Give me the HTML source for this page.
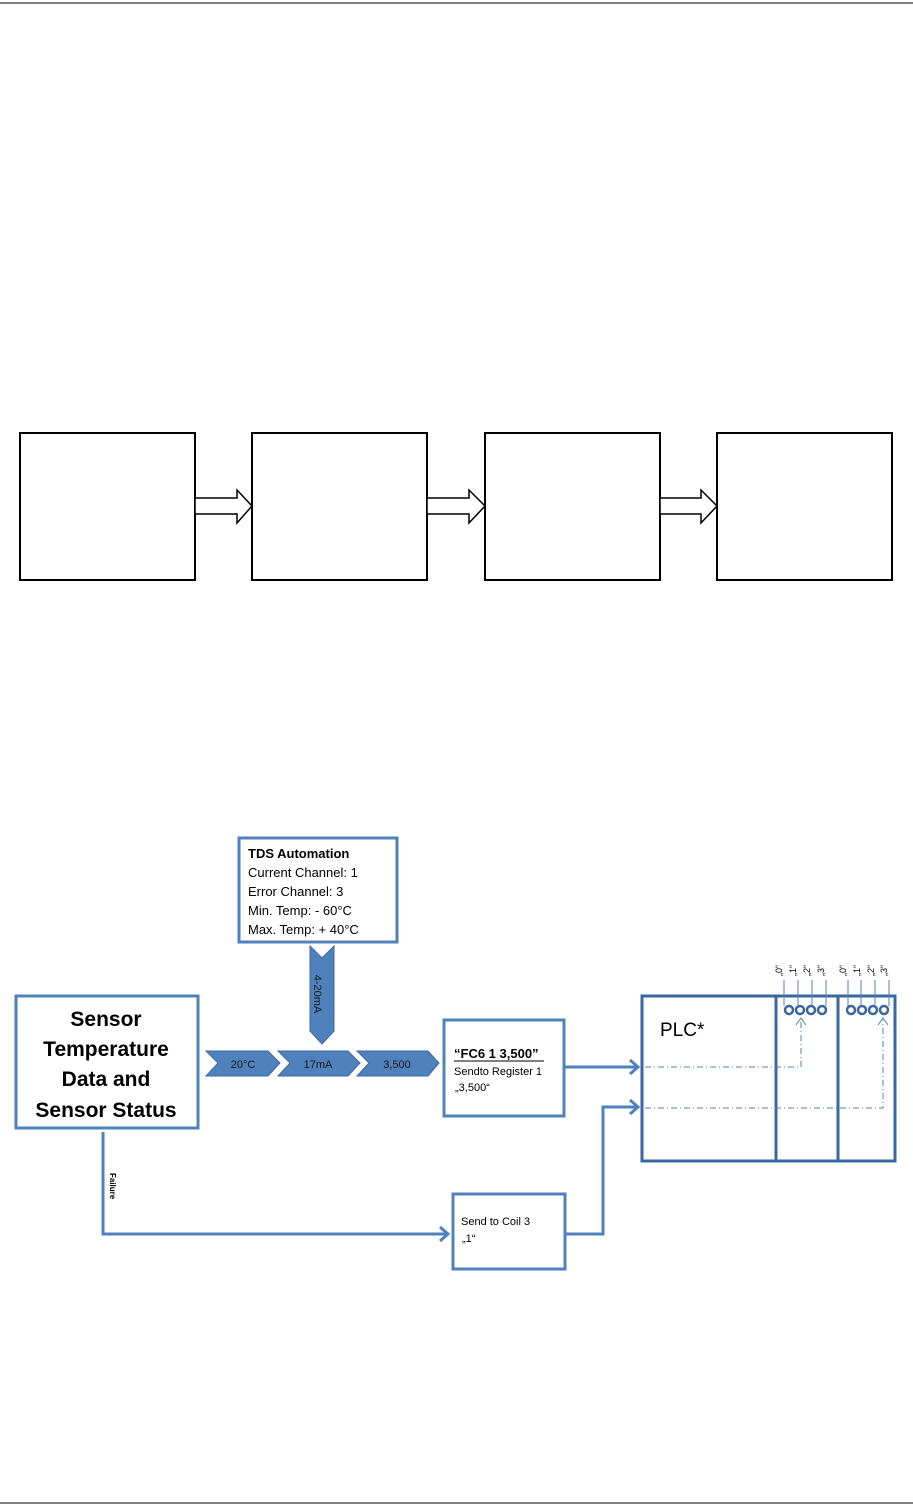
<!DOCTYPE html>
<html><head><meta charset="utf-8"><style>
html,body{margin:0;padding:0;background:#fff}
svg{display:block}
text{font-family:"Liberation Sans",sans-serif}
</style></head><body>
<svg width="913" height="1506" viewBox="0 0 913 1506" xmlns="http://www.w3.org/2000/svg">
<line x1="0" y1="3" x2="913" y2="3" stroke="#000" stroke-width="1"/>
<line x1="0" y1="1503" x2="913" y2="1503" stroke="#000" stroke-width="1"/>
<g fill="#fff" stroke="#000" stroke-width="2">
<rect x="20" y="433" width="175" height="147"/>
<rect x="252" y="433" width="175" height="147"/>
<rect x="485" y="433" width="175" height="147"/>
<rect x="717" y="433" width="175" height="147"/>
</g>
<g fill="#fff" stroke="#000" stroke-width="1.5">
<polygon points="195,498 237,498 237,490 252,506 237,523 237,514 195,514"/>
<polygon points="427,498 469,498 469,490 485,506 469,523 469,514 427,514"/>
<polygon points="660,498 701,498 701,490 717,506 701,523 701,514 660,514"/>
</g>
<!-- lower diagram -->
<g fill="#fff" stroke="#4f81bd" stroke-width="3">
<rect x="239" y="838" width="158" height="104"/>
<rect x="16" y="996" width="182" height="132"/>
<rect x="444" y="1020" width="120" height="96"/>
<rect x="453" y="1194" width="112" height="75"/>
</g>
<text x="248" y="858" font-size="13" font-weight="bold" fill="#000">TDS Automation</text>
<g font-size="13" fill="#000">
<text x="248" y="877">Current Channel: 1</text>
<text x="248" y="896">Error Channel: 3</text>
<text x="248" y="915">Min. Temp:  - 60°C</text>
<text x="248" y="934">Max. Temp: + 40°C</text>
</g>
<g font-size="21" font-weight="bold" fill="#000" text-anchor="middle">
<text x="106" y="1026">Sensor</text>
<text x="106" y="1056">Temperature</text>
<text x="106" y="1086">Data and</text>
<text x="106" y="1117">Sensor Status</text>
</g>
<!-- chevrons -->
<g fill="#4f81bd" stroke="#3a6aa3" stroke-width="1">
<polygon points="206,1051 268,1051 280,1063 268,1076 206,1076 218,1063"/>
<polygon points="278,1051 348,1051 360,1063 348,1076 278,1076 290,1063"/>
<polygon points="357,1051 428,1051 439,1063 428,1076 357,1076 369,1063"/>
<polygon points="310,946 322,958 334,946 334,1031 322,1044 310,1031"/>
</g>
<g font-size="11" fill="#1a1a1a" text-anchor="middle">
<text x="243" y="1068">20°C</text>
<text x="318" y="1068">17mA</text>
<text x="397" y="1068">3,500</text>
<text transform="translate(318,994) rotate(90)" x="0" y="4" font-size="11">4-20mA</text>
</g>
<text x="454" y="1058" font-size="13" font-weight="bold" fill="#000">“FC6  1 3,500”</text>
<line x1="454" y1="1061" x2="544" y2="1061" stroke="#000" stroke-width="1"/>
<text x="454" y="1075" font-size="11" fill="#000">Sendto Register 1</text>
<text x="455" y="1091" font-size="11" fill="#000">„3,500“</text>
<text x="461" y="1225" font-size="11" fill="#000">Send to Coil 3</text>
<text x="462" y="1242" font-size="11" fill="#000">„1“</text>
<!-- PLC -->
<g fill="none" stroke="#3a67a0" stroke-width="3">
<rect x="642" y="996" width="253" height="165"/>
<line x1="776" y1="996" x2="776" y2="1161"/>
<line x1="838" y1="996" x2="838" y2="1161"/>
</g>
<text x="660" y="1036" font-size="19" fill="#000">PLC*</text>
<g fill="none" stroke="#3a67a0" stroke-width="2.5">
<circle cx="789" cy="1010" r="4"/><circle cx="800" cy="1010" r="4"/><circle cx="811" cy="1010" r="4"/><circle cx="822" cy="1010" r="4"/>
<circle cx="851" cy="1010" r="4"/><circle cx="862" cy="1010" r="4"/><circle cx="873" cy="1010" r="4"/><circle cx="884" cy="1010" r="4"/>
</g>
<g stroke="#4f81bd" stroke-width="1">
<line x1="784" y1="980" x2="784" y2="1006"/><line x1="798" y1="980" x2="798" y2="1006"/><line x1="812" y1="980" x2="812" y2="1006"/><line x1="826" y1="980" x2="826" y2="1006"/>
<line x1="848" y1="980" x2="848" y2="1006"/><line x1="861" y1="980" x2="861" y2="1006"/><line x1="875" y1="980" x2="875" y2="1006"/><line x1="889" y1="980" x2="889" y2="1006"/>
</g>
<g font-size="9" fill="#000">
<text transform="translate(782,976) rotate(-90)">„0“</text>
<text transform="translate(796,976) rotate(-90)">„1“</text>
<text transform="translate(810,976) rotate(-90)">„2“</text>
<text transform="translate(824,976) rotate(-90)">„3“</text>
<text transform="translate(846,976) rotate(-90)">„0“</text>
<text transform="translate(860,976) rotate(-90)">„1“</text>
<text transform="translate(874,976) rotate(-90)">„2“</text>
<text transform="translate(887,976) rotate(-90)">„3“</text>
</g>
<g fill="none" stroke="#4f81bd" stroke-width="1" stroke-dasharray="6,3,1,3">
<polyline points="645,1067 801,1067 801,1020"/>
<polyline points="645,1108 883,1108 883,1020"/>
</g>
<g fill="none" stroke="#4f81bd" stroke-width="1">
<polyline points="796,1025 801,1018 806,1025"/>
<polyline points="878,1025 883,1018 888,1025"/>
</g>
<!-- connectors -->
<g fill="none" stroke="#4f81bd" stroke-width="3">
<line x1="565" y1="1067" x2="638" y2="1067"/>
<polyline points="630,1060 638,1067 630,1074"/>
<polyline points="565,1234 603,1234 603,1107 638,1107"/>
<polyline points="630,1100 638,1107 630,1114"/>
<polyline points="103,1132 103,1234 448,1234"/>
<polyline points="440,1227 448,1234 440,1241"/>
</g>
<text transform="translate(110,1173) rotate(90)" font-size="8" font-weight="bold" fill="#000">Failure</text>
</svg>
</body></html>
